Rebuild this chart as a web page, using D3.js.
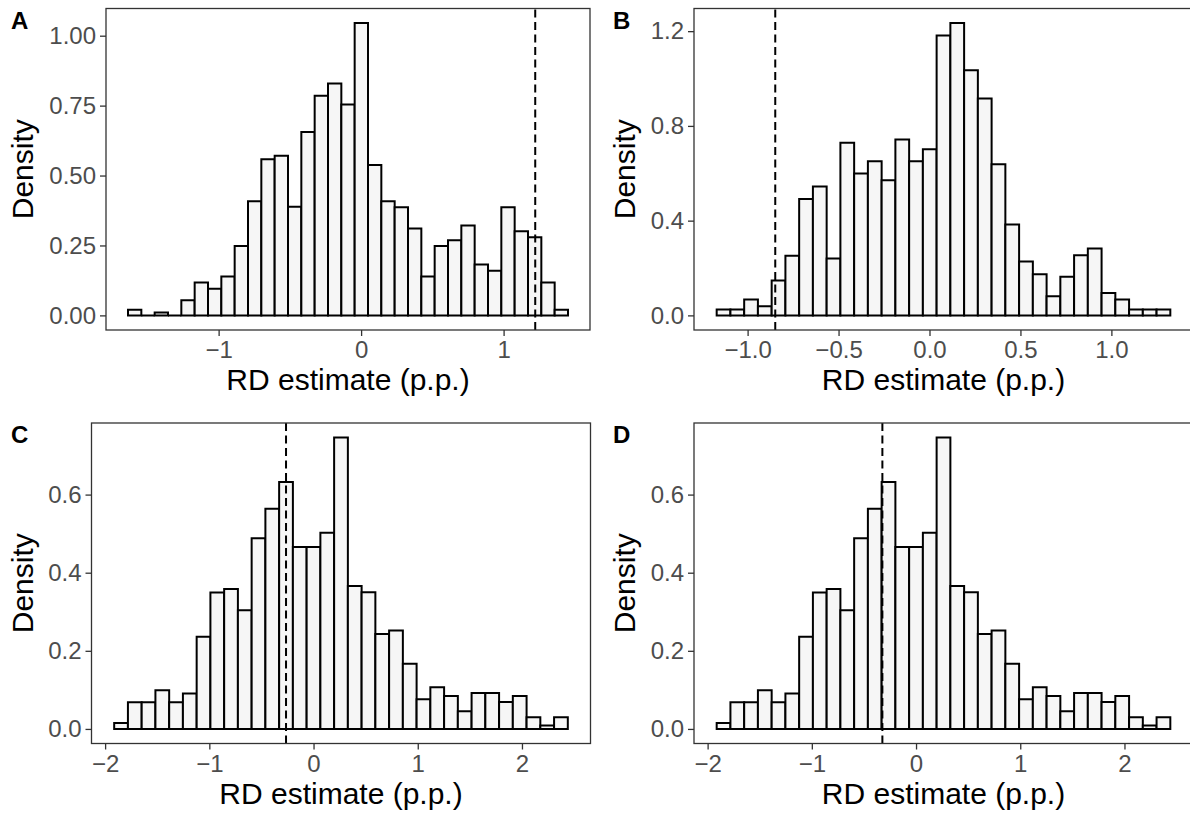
<!DOCTYPE html>
<html>
<head>
<meta charset="utf-8">
<script src="https://cdn.jsdelivr.net/npm/d3@7"></script>
<style>
  body { margin: 0; background: #fff; }
  svg { display: block; font-family: "Liberation Sans", Arial, Helvetica, sans-serif; }
</style>
</head>
<body>
<div id="chart"></div>
<script>
// histogram densities (33 bins each), plus first/last bin edge
const densA = [0.020, 0, 0.010, 0, 0.054, 0.118, 0.095, 0.139, 0.248, 0.408, 0.558,
  0.571, 0.388, 0.656, 0.785, 0.829, 0.754, 1.045, 0.538, 0.408, 0.387, 0.311,
  0.139, 0.248, 0.269, 0.321, 0.182, 0.160, 0.387, 0.301, 0.279, 0.118, 0.020];
const rangeA = [-1.636, 1.452];
const cutA = 1.222;

const densB = [0.025, 0.025, 0.067, 0.039, 0.147, 0.252, 0.491, 0.544, 0.240, 0.729, 0.599,
  0.651, 0.571, 0.743, 0.651, 0.701, 1.182, 1.234, 1.035, 0.916, 0.638, 0.384,
  0.227, 0.174, 0.081, 0.163, 0.254, 0.282, 0.095, 0.067, 0.025, 0.025, 0.025];
const rangeB = [-1.170, 1.324];
const cutB = -0.848;

// panels C and D show the same estimates, only the dashed reference differs
const densCD = [0.015, 0.068, 0.068, 0.099, 0.068, 0.091, 0.236, 0.349, 0.358, 0.304, 0.488,
  0.564, 0.632, 0.466, 0.466, 0.502, 0.746, 0.366, 0.350, 0.243, 0.252, 0.167,
  0.076, 0.107, 0.084, 0.045, 0.092, 0.092, 0.069, 0.084, 0.030, 0.009, 0.030];
const rangeCD = [-1.913, 2.440];
const cutC = -0.264;
const cutD = -0.323;

const yTicksA = [0, 0.25, 0.5, 0.75, 1];
const yTicksB = [0, 0.4, 0.8, 1.2];
const yTicksCD = [0, 0.2, 0.4, 0.6];
const xTicksA = [-1, 0, 1];
const xTicksB = [-1, -0.5, 0, 0.5, 1];
const xTicksCD = [-2, -1, 0, 1, 2];

const panels = [
  { tag: "A", dens: densA, range: rangeA, cut: cutA, yTicks: yTicksA, yFmt: ".2f", xTicks: xTicksA, xFmt: "d",
    left: 106, right: 590, top: 8.5, bottom: 330, tagX: 11, ytX: 33 },
  { tag: "B", dens: densB, range: rangeB, cut: cutB, yTicks: yTicksB, yFmt: ".1f", xTicks: xTicksB, xFmt: ".1f",
    left: 694, right: 1193, top: 8.5, bottom: 330, tagX: 613, ytX: 635 },
  { tag: "C", dens: densCD, range: rangeCD, cut: cutC, yTicks: yTicksCD, yFmt: ".1f", xTicks: xTicksCD, xFmt: "d",
    left: 91.5, right: 590.5, top: 423, bottom: 743.5, tagX: 11, ytX: 33 },
  { tag: "D", dens: densCD, range: rangeCD, cut: cutD, yTicks: yTicksCD, yFmt: ".1f", xTicks: xTicksCD, xFmt: "d",
    left: 694, right: 1193, top: 423, bottom: 743.5, tagX: 613, ytX: 635 }
];

const svg = d3.select("#chart")
  .append("svg")
  .attr("width", 1190)
  .attr("height", 814);

panels.forEach(function (p) {
  const n = p.dens.length;
  const bw = (p.range[1] - p.range[0]) / n;
  const bins = p.dens.map((d, i) => ({ x0: p.range[0] + i * bw, x1: p.range[0] + (i + 1) * bw, y: d }));

  const xpad = (p.range[1] - p.range[0]) * 0.05;
  const x = d3.scaleLinear()
    .domain([p.range[0] - xpad, p.range[1] + xpad])
    .range([p.left, p.right]);

  const ymax = d3.max(p.dens);
  const y = d3.scaleLinear()
    .domain([-ymax * 0.05, ymax * 1.05])
    .range([p.bottom, p.top]);

  const g = svg.append("g");

  // bars as paths so empty bins still show a flat outline
  g.selectAll("path.bar")
    .data(bins)
    .enter()
    .append("path")
    .attr("class", "bar")
    .attr("d", d => `M${x(d.x0)},${y(0)}V${y(d.y)}H${x(d.x1)}V${y(0)}Z`)
    .attr("fill", "#f6f6f6")
    .attr("stroke", "#000")
    .attr("stroke-width", 2)
    .attr("stroke-linejoin", "miter");

  g.append("line")
    .attr("x1", x(p.cut))
    .attr("x2", x(p.cut))
    .attr("y1", p.bottom)
    .attr("y2", p.top)
    .attr("stroke", "#000")
    .attr("stroke-width", 2)
    .attr("stroke-dasharray", "8,4.5");

  g.append("rect")
    .attr("x", p.left)
    .attr("y", p.top)
    .attr("width", p.right - p.left)
    .attr("height", p.bottom - p.top)
    .attr("fill", "none")
    .attr("stroke", "#333333")
    .attr("stroke-width", 1.3);

  const yAxis = g.append("g")
    .attr("transform", `translate(${p.left},0)`)
    .call(d3.axisLeft(y).tickValues(p.yTicks).tickFormat(d3.format(p.yFmt)).tickSize(6).tickPadding(4));

  const xAxis = g.append("g")
    .attr("transform", `translate(0,${p.bottom})`)
    .call(d3.axisBottom(x).tickValues(p.xTicks).tickFormat(d3.format(p.xFmt)).tickSize(6).tickPadding(5));

  [yAxis, xAxis].forEach(function (ax) {
    ax.select(".domain").remove();
    ax.selectAll(".tick line").attr("stroke", "#333333").attr("stroke-width", 1.3);
    ax.selectAll(".tick text")
      .attr("fill", "#4d4d4d")
      .style("font-size", "24px")
      .style("font-family", "'Liberation Sans', Arial, sans-serif");
  });

  g.append("text")
    .attr("x", (p.left + p.right) / 2)
    .attr("y", p.bottom + 60)
    .attr("text-anchor", "middle")
    .style("font-size", "30px")
    .attr("fill", "#000")
    .text("RD estimate (p.p.)");

  g.append("text")
    .attr("transform", `translate(${p.ytX},${(p.top + p.bottom) / 2}) rotate(-90)`)
    .attr("text-anchor", "middle")
    .style("font-size", "30px")
    .attr("fill", "#000")
    .text("Density");

  g.append("text")
    .attr("x", p.tagX)
    .attr("y", p.top + 20)
    .style("font-size", "24px")
    .style("font-weight", "bold")
    .attr("fill", "#000")
    .text(p.tag);
});
</script>
</body>
</html>
